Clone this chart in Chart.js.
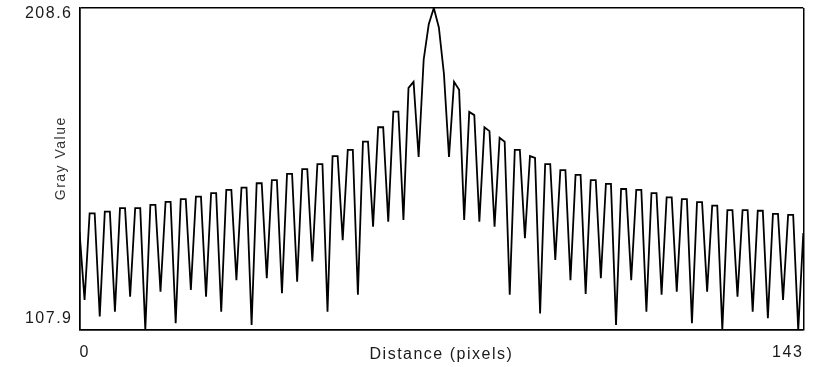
<!DOCTYPE html>
<html>
<head>
<meta charset="utf-8">
<script src="https://cdn.jsdelivr.net/npm/chart.js@4.4.1/dist/chart.umd.min.js"></script>
<style>
  html, body { margin: 0; padding: 0; background: #fff; }
  canvas { display: block; }
</style>
</head>
<body>
<canvas id="c" width="831" height="367"></canvas>
<script>
// ---- data ----
const distance = Array.from({ length: 144 }, (_, i) => i); // pixel index 0..143
const grayValue = [
  138.6, 117.3, 144.4, 144.4, 112.1, 144.9, 144.9, 113.6, 146.0, 146.0,
  118.3, 146.0, 146.0, 107.9, 147.0, 147.0, 119.9, 148.0, 148.0, 110.0,
  148.8, 148.8, 120.4, 149.6, 149.6, 118.3, 150.7, 150.7, 113.6, 151.7,
  151.7, 123.5, 152.4, 152.4, 109.5, 153.8, 153.8, 124.1, 154.8, 154.8,
  119.4, 156.7, 156.7, 123.0, 158.2, 158.2, 129.3, 159.8, 159.8, 113.6,
  162.3, 162.3, 136.0, 164.2, 164.2, 118.9, 166.8, 166.8, 140.2, 171.3,
  171.3, 141.8, 176.2, 176.2, 142.3, 183.6, 185.5, 162.0, 192.5, 203.5,
  208.6, 202.5, 188.0, 162.0, 185.5, 183.0, 142.3, 176.1, 175.1, 141.8,
  171.3, 170.1, 140.2, 168.0, 166.8, 118.9, 164.2, 164.2, 136.6, 162.3,
  161.7, 113.1, 159.8, 159.8, 129.8, 157.9, 157.9, 123.5, 156.4, 156.4,
  119.2, 154.8, 154.8, 124.1, 153.6, 153.6, 109.5, 152.0, 152.0, 123.5,
  151.7, 151.7, 113.6, 150.7, 150.7, 118.9, 149.4, 149.4, 119.9, 148.8,
  148.8, 110.0, 147.9, 147.9, 119.9, 146.8, 146.8, 107.9, 145.4, 145.4,
  118.3, 145.4, 145.4, 113.6, 145.2, 145.2, 111.6, 144.2, 144.2, 117.3,
  143.9, 143.9, 107.9, 138.2
];
const xTickValues = [0, 143];
const xTickLabels = ['0', '143'];
const yTickValues = [107.9, 208.6];
const yTickLabels = ['107.9', '208.6'];
const xTitle = 'Distance (pixels)';
const yTitle = 'Gray Value';

// ---- chart ----
const points = distance.map((d, i) => ({ x: d, y: grayValue[i] }));
const FONT = "'Liberation Sans', Arial, Helvetica, sans-serif";

const spacingPlugin = {
  id: 'spacing',
  beforeDraw(chart) { chart.ctx.letterSpacing = '1.5px'; }
};

new Chart(document.getElementById('c'), {
  type: 'line',
  data: {
    datasets: [{
      data: points,
      borderColor: '#000',
      borderWidth: 1.8,
      pointRadius: 0,
      tension: 0,
      fill: false
    }]
  },
  plugins: [spacingPlugin],
  options: {
    responsive: false,
    devicePixelRatio: 1,
    animation: false,
    events: [],
    layout: { padding: { top: 8, right: 27.7, bottom: 0, left: 0 } },
    plugins: { legend: { display: false }, tooltip: { enabled: false } },
    scales: {
      x: {
        type: 'linear',
        min: xTickValues[0],
        max: xTickValues[1],
        afterBuildTicks(scale) { scale.ticks = xTickValues.map(v => ({ value: v })); },
        afterFit(scale) { scale.height = 37; scale.paddingLeft = 0; scale.paddingRight = 0; },
        grid: { display: true, color: '#000', lineWidth: 1.5, drawTicks: false },
        border: { display: true, color: '#000', width: 1.5 },
        ticks: {
          align: 'inner',
          padding: 13,
          color: '#1a1a1a',
          maxRotation: 0,
          autoSkip: false,
          font: { family: FONT, size: 16 },
          callback(v) { return xTickLabels[xTickValues.indexOf(v)]; }
        },
        title: {
          display: true,
          text: xTitle,
          color: '#1a1a1a',
          font: { family: FONT, size: 16 },
          padding: { top: 0, bottom: 3 }
        }
      },
      y: {
        type: 'linear',
        min: yTickValues[0],
        max: yTickValues[1],
        afterBuildTicks(scale) { scale.ticks = yTickValues.map(v => ({ value: v })); },
        afterFit(scale) { scale.width = 79.5; scale.paddingTop = 0; scale.paddingBottom = 0; },
        grid: { display: true, color: '#000', lineWidth: 1.5, drawTicks: false },
        border: { display: true, color: '#000', width: 1.5 },
        ticks: {
          padding: 7,
          color: '#1a1a1a',
          autoSkip: false,
          font: { family: FONT, size: 16, lineHeight: '11px' },
          callback(v) {
            const lbl = yTickLabels[yTickValues.indexOf(v)];
            return v === yTickValues[1] ? ['', lbl] : [lbl, '', ''];
          }
        },
        title: {
          display: true,
          text: '    ' + yTitle,
          color: '#333',
          font: { family: FONT, size: 14 },
          padding: { top: 53, bottom: 0 }
        }
      }
    }
  }
});
</script>
</body>
</html>
